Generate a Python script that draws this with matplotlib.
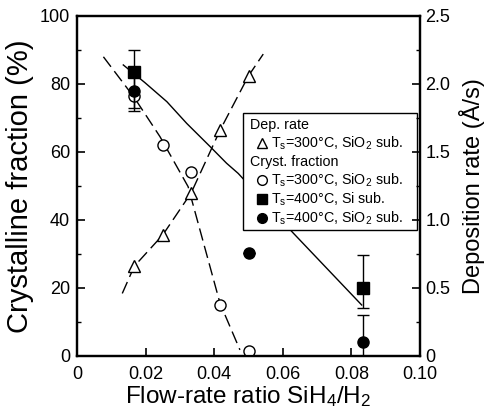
import matplotlib
matplotlib.use("Agg")
import matplotlib.pyplot as plt
from matplotlib.patches import Rectangle
from matplotlib.lines import Line2D

plt.rcParams['font.family'] = ['Liberation Sans', 'DejaVu Sans']
plt.rcParams['mathtext.default'] = 'regular'

# ---- data ----
x_dep = [0.0167, 0.025, 0.0333, 0.0417, 0.05]
dep_rate = [0.66, 0.89, 1.20, 1.66, 2.06]          # Å/s (right axis)

x_c300 = [0.0167, 0.025, 0.0333, 0.0417, 0.05]
cryst_300_sio2 = [76.5, 62, 54, 15, 1.5]          # %

x_c400si = [0.0167, 0.0833]
cryst_400_si = [83.5, 20]
err_400_si_lo = [11.5, 6]
err_400_si_hi = [6.5, 9.7]

x_c400sio2 = [0.0167, 0.05, 0.0833]
cryst_400_sio2 = [78, 30.4, 4.2]
err_400_sio2_lo = [5, 0, 4.2]
err_400_sio2_hi = [5, 0, 7.8]

# guide curves
guide_dep_x = [0.0132, 0.0167, 0.025, 0.0333, 0.0417, 0.05, 0.0543]
guide_dep_y = [0.46, 0.66, 0.89, 1.20, 1.66, 2.06, 2.22]
guide_300_x = [0.0077, 0.0167, 0.0242, 0.0324, 0.0417, 0.0475]
guide_300_y = [88, 76, 64.5, 49.8, 15.5, 1.8]
guide_400_x = [0.0135, 0.0198, 0.0262, 0.0320, 0.0388, 0.0436, 0.0470, 0.0631, 0.083]
guide_400_y = [85.6, 80.4, 74.8, 68.4, 61.6, 56.7, 53.7, 36.1, 15]

x_ticks = [0, 0.02, 0.04, 0.06, 0.08, 0.10]
x_ticklabels = ["0", "0.02", "0.04", "0.06", "0.08", "0.10"]
yl_ticks = [0, 20, 40, 60, 80, 100]
yr_ticks = [0, 0.5, 1.0, 1.5, 2.0, 2.5]
yr_ticklabels = ["0", "0.5", "1.0", "1.5", "2.0", "2.5"]

fig = plt.figure(figsize=(4.86, 4.2), dpi=100)
ax = fig.add_axes([77/486, 1-356/420, 343/486, 340/420])
ax2 = ax.twinx()

ax.set_xlim(0, 0.10)
ax.set_ylim(0, 100)
ax2.set_ylim(0, 2.5)

# guide lines
ax2.plot(guide_dep_x, guide_dep_y, color='black', lw=1.0, ls=(0, (9, 4)), zorder=1)
ax.plot(guide_300_x, guide_300_y, color='black', lw=1.0, ls=(0, (9, 4)), zorder=1)
ax.plot(guide_400_x, guide_400_y, color='black', lw=1.0, zorder=1)

# data markers
ax2.plot(x_dep, dep_rate, ls='none', marker='^', ms=8, mfc='white', mec='black', mew=1.0, zorder=3)
ax.plot(x_c300, cryst_300_sio2, ls='none', marker='o', ms=8, mfc='white', mec='black', mew=1.0, zorder=3)
ax.errorbar(x_c400sio2, cryst_400_sio2, yerr=[err_400_sio2_lo, err_400_sio2_hi], fmt='o', ms=8,
            color='black', ecolor='black', elinewidth=1.0, capsize=4, capthick=1.0, zorder=4)
ax.errorbar(x_c400si, cryst_400_si, yerr=[err_400_si_lo, err_400_si_hi], fmt='s', ms=8,
            color='black', ecolor='black', elinewidth=1.0, capsize=4, capthick=1.0, zorder=5)

# axes formatting
ax.set_xticks(x_ticks)
ax.set_xticklabels(x_ticklabels)
ax.set_yticks(yl_ticks)
ax.set_yticks(range(10, 100, 20), minor=True)
ax2.set_yticks(yr_ticks)
ax2.set_yticklabels(yr_ticklabels)
ax2.set_yticks([0.25, 0.75, 1.25, 1.75, 2.25], minor=True)

for a in (ax, ax2):
    for s in a.spines.values():
        s.set_linewidth(1.6)
ax.tick_params(axis='both', which='major', direction='in', length=6, width=1.2, labelsize=13, pad=5)
ax.tick_params(axis='x', which='major', pad=7)
ax.tick_params(axis='both', which='minor', direction='in', length=3, width=1.0)
ax.tick_params(axis='y', right=False)
ax2.tick_params(axis='y', which='major', direction='in', length=6, width=1.2, labelsize=13, pad=4)
ax2.tick_params(axis='y', which='minor', direction='in', length=3, width=1.0)

ax.set_xlabel("Flow-rate ratio SiH$_4$/H$_2$", fontsize=17.5, labelpad=1)
ax.set_ylabel("Crystalline fraction (%)", fontsize=21, labelpad=4)
ax2.set_ylabel("Deposition rate (Å/s)", fontsize=17, labelpad=6)

# manual legend
ax.add_patch(Rectangle((0.485, 0.371), 0.505, 0.343, transform=ax.transAxes,
                       facecolor='white', edgecolor='black', lw=1.0, zorder=6))
fs = 10.3
rows = [
    (0.679, None, "Dep. rate"),
    (0.626, ('^', 'white'), "T$_s$=300°C, SiO$_2$ sub."),
    (0.571, None, "Cryst. fraction"),
    (0.518, ('o', 'white'), "T$_s$=300°C, SiO$_2$ sub."),
    (0.461, ('s', 'black'), "T$_s$=400°C, Si sub."),
    (0.405, ('o', 'black'), "T$_s$=400°C, SiO$_2$ sub."),
]
for y, mk, label in rows:
    if mk is None:
        ax.text(0.504, y, label, transform=ax.transAxes, fontsize=fs, va='center', ha='left', zorder=7)
    else:
        ax.add_line(Line2D([0.538], [y], transform=ax.transAxes, marker=mk[0], ms=7,
                           mfc=mk[1], mec='black', mew=1.0, ls='none', zorder=7))
        ax.text(0.567, y, label, transform=ax.transAxes, fontsize=fs, va='center', ha='left', zorder=7)

fig.savefig("out.png", dpi=100)
